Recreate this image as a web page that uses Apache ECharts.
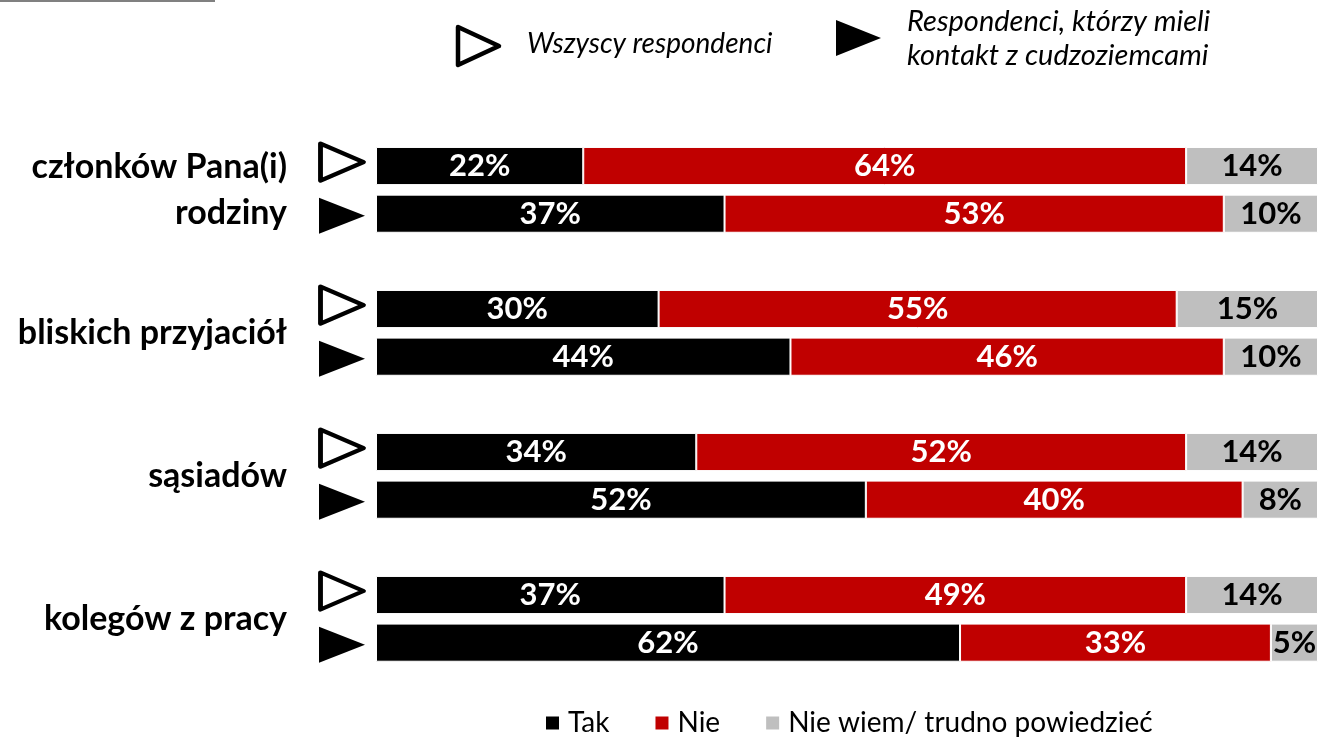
<!DOCTYPE html>
<html><head><meta charset="utf-8">
<script src="https://cdn.jsdelivr.net/npm/echarts@6/dist/echarts.min.js"></script>
<style>html,body{margin:0;padding:0;background:#fff}#c{width:1319px;height:738px}</style>
</head><body><div id="c"></div>
<script>
// ---- data ----
const groups = ['członków Pana(i)\nrodziny', 'bliskich przyjaciół', 'sąsiadów', 'kolegów z pracy'];
const respondentTypes = ['Wszyscy respondenci', 'Respondenci, którzy mieli\nkontakt z cudzoziemcami'];
const answerNames = ['Tak', 'Nie', 'Nie wiem/ trudno powiedzieć'];
// order: group0-all, group0-contact, group1-all, group1-contact, ...
const tak = [22, 37, 30, 44, 34, 52, 37, 62];
const nie = [64, 53, 55, 46, 52, 40, 49, 33];
const nieWiem = [14, 10, 15, 10, 14, 8, 14, 5];

// ---- slots: each group = 2 bars + 1 gap (last gap omitted) ----
const FONT = 'Lato';
const slots = [];
const slotOfBar = [];
groups.forEach((g, gi) => {
  respondentTypes.forEach((r, ri) => { slotOfBar.push(slots.length); slots.push('s' + gi + '_' + ri); });
  if (gi < groups.length - 1) slots.push('gap' + gi);
});
function toSlots(arr) {
  const out = slots.map(() => '-');
  arr.forEach((v, i) => { out[slotOfBar[i]] = v; });
  return out;
}
// half-slot axis for group labels (boundaryGap false)
const halfCats = [];
for (let k = 0; k <= slots.length * 2; k++) halfCats.push('h' + k);
const groupLabelAt = {};
groups.forEach((g, gi) => { groupLabelAt[2 + 6 * gi] = g; });

const colors = ['#000000', '#C00000', '#BFBFBF'];
const labelColors = ['#ffffff', '#ffffff', '#000000'];
const values = [tak, nie, nieWiem];

const TOP = 142.2, H = 524.3;

const chart = echarts.init(document.getElementById('c'));
const barSeries = answerNames.map((name, i) => ({
  name, type: 'bar', stack: 'all', xAxisIndex: 0, yAxisIndex: 0,
  barWidth: '80%',
  itemStyle: { color: colors[i], borderColor: '#ffffff', borderWidth: 1 },
  label: {
    show: true, position: 'inside', formatter: '{c}%',
    color: labelColors[i], fontFamily: FONT, fontWeight: 'bold', fontSize: 31
  },
  emphasis: { disabled: true },
  data: toSlots(values[i])
}));

const triPath = 'path://M0,0L10,5L0,10Z';
const scatterSeries = respondentTypes.map((name, ri) => ({
  name, type: 'scatter', xAxisIndex: 1, yAxisIndex: 2,
  symbol: triPath, symbolKeepAspect: false,
  symbolSize: ri === 0 ? [43, 37] : [46, 36],
  symbolOffset: ri === 0 ? [0, -4] : [0, 2],
  itemStyle: ri === 0
    ? { color: '#ffffff', borderColor: '#000000', borderWidth: 4.5, borderJoin: 'round', opacity: 1 }
    : { color: '#000000', opacity: 1 },
  emphasis: { disabled: true },
  silent: true,
  data: groups.map((g, gi) => [0.5, slots[slotOfBar[gi * 2 + ri]]])
}));

chart.setOption({
  animation: false,
  backgroundColor: '#ffffff',
  textStyle: { fontFamily: FONT },
  grid: [
    { left: 376, right: 1, top: TOP, height: H },
    { left: 316, width: 52, top: TOP, height: H }
  ],
  xAxis: [
    { type: 'value', gridIndex: 0, min: 0, max: 100, show: false },
    { type: 'value', gridIndex: 1, min: 0, max: 1, show: false }
  ],
  yAxis: [
    { type: 'category', gridIndex: 0, data: slots, inverse: true, show: false },
    {
      type: 'category', gridIndex: 0, data: halfCats, inverse: true, boundaryGap: false,
      position: 'left',
      axisLine: { show: false }, axisTick: { show: false }, splitLine: { show: false },
      axisLabel: {
        interval: 0, margin: 89, hideOverlap: false,
        formatter: (v, idx) => groupLabelAt[idx] || '',
        color: '#000', fontFamily: FONT, fontWeight: 'bold', fontSize: 34, lineHeight: 46,
        align: 'right', verticalAlign: 'middle'
      }
    },
    { type: 'category', gridIndex: 1, data: slots, inverse: true, show: false }
  ],
  legend: {
    data: answerNames, left: 539, top: 704, icon: 'rect', itemWidth: 15, itemHeight: 15,
    itemGap: 44, selectedMode: false,
    textStyle: { fontFamily: FONT, fontSize: 28, color: '#000', padding: [0, 0, 0, 3] }
  },
  graphic: [
    { type: 'rect', shape: { x: 0, y: 0, width: 215, height: 2 }, style: { fill: '#808080' } },
    { type: 'polygon', shape: { points: [[458, 27], [499, 46], [458, 65]] },
      style: { fill: '#fff', stroke: '#000', lineWidth: 4.5, lineJoin: 'round' } },
    { type: 'text', x: 527, y: 44, style: { text: respondentTypes[0], fontFamily: FONT, fontStyle: 'italic',
      fontSize: 28, fill: '#000', verticalAlign: 'middle', align: 'left' } },
    { type: 'polygon', shape: { points: [[836, 20], [881, 38], [836, 56]] }, style: { fill: '#000' } },
    { type: 'text', x: 907, y: 39, style: { text: respondentTypes[1], fontFamily: FONT, fontStyle: 'italic',
      fontSize: 29, lineHeight: 34, fill: '#000', verticalAlign: 'middle', align: 'left' } }
  ],
  series: barSeries.concat(scatterSeries)
});
</script></body></html>
